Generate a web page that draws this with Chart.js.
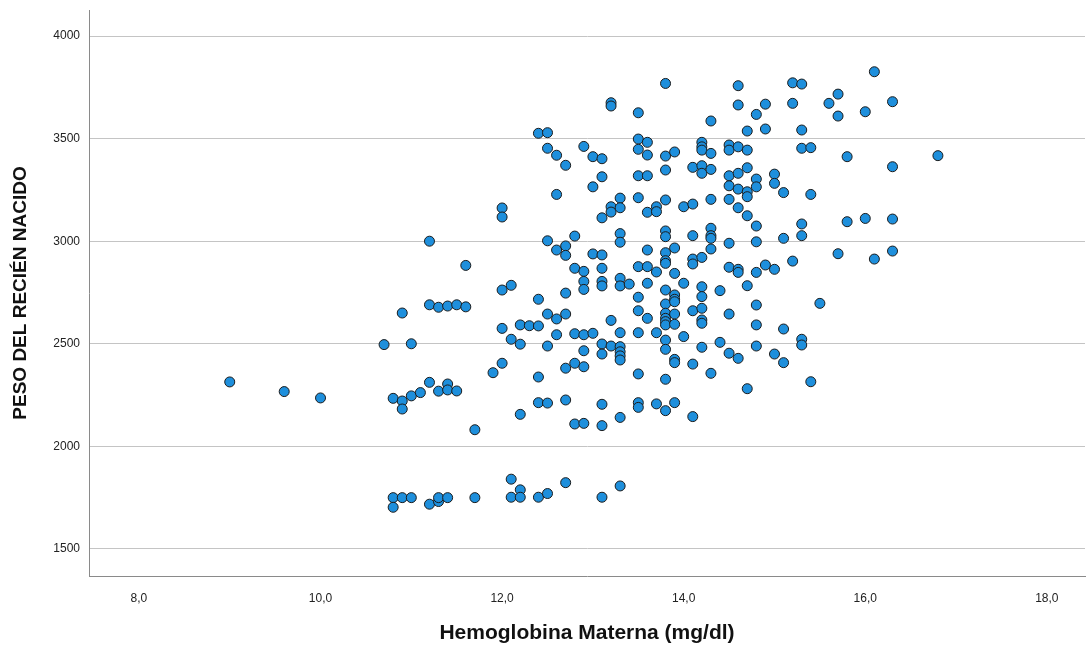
<!DOCTYPE html>
<html>
<head>
<meta charset="utf-8">
<script src="https://cdn.jsdelivr.net/npm/chart.js@4"></script>
<style>
  html, body { margin: 0; padding: 0; background: #fff; }
  #wrap { width: 1086px; height: 646px; }
</style>
</head>
<body>
<div id="wrap"><canvas id="scatter" width="1086" height="646"></canvas></div>
<script>
// Hemoglobina materna (x) y peso del recién nacido (y)
const hemoglobina = [
  9.0, 9.6, 10.0, 10.7, 10.8, 10.8, 10.8, 10.9, 10.9, 10.9, 10.9, 11.0, 11.0, 11.0, 11.1,
  11.2, 11.2, 11.2, 11.2, 11.3, 11.3, 11.3, 11.3, 11.4, 11.4, 11.4, 11.4, 11.5, 11.5,
  11.6, 11.6, 11.7, 11.7, 11.9,
  12.0, 12.0, 12.0, 12.0, 12.0,
  12.1, 12.1, 12.1, 12.1,
  12.2, 12.2, 12.2, 12.2, 12.2,
  12.3,
  12.4, 12.4, 12.4, 12.4, 12.4, 12.4,
  12.5, 12.5, 12.5, 12.5, 12.5, 12.5, 12.5,
  12.6, 12.6, 12.6, 12.6, 12.6,
  12.7, 12.7, 12.7, 12.7, 12.7, 12.7, 12.7, 12.7,
  12.8, 12.8, 12.8, 12.8, 12.8,
  12.9, 12.9, 12.9, 12.9, 12.9, 12.9, 12.9, 12.9,
  13.0, 13.0, 13.0, 13.0,
  13.1, 13.1, 13.1, 13.1, 13.1, 13.1, 13.1, 13.1, 13.1, 13.1, 13.1, 13.1,
  13.2, 13.2, 13.2, 13.2, 13.2, 13.2,
  13.3, 13.3, 13.3, 13.3, 13.3, 13.3, 13.3, 13.3, 13.3, 13.3, 13.3, 13.3, 13.3,
  13.4,
  13.5, 13.5, 13.5, 13.5, 13.5, 13.5, 13.5, 13.5, 13.5, 13.5, 13.5, 13.5,
  13.6, 13.6, 13.6, 13.6, 13.6, 13.6, 13.6, 13.6,
  13.7, 13.7, 13.7, 13.7, 13.7,
  13.8, 13.8, 13.8, 13.8, 13.8, 13.8, 13.8, 13.8, 13.8, 13.8, 13.8, 13.8, 13.8, 13.8,
  13.8, 13.8, 13.8, 13.8, 13.8,
  13.9, 13.9, 13.9, 13.9, 13.9, 13.9, 13.9, 13.9, 13.9, 13.9, 13.9,
  14.0, 14.0, 14.0,
  14.1, 14.1, 14.1, 14.1, 14.1, 14.1, 14.1, 14.1,
  14.2, 14.2, 14.2, 14.2, 14.2, 14.2, 14.2, 14.2, 14.2, 14.2, 14.2, 14.2,
  14.3, 14.3, 14.3, 14.3, 14.3, 14.3, 14.3, 14.3, 14.3,
  14.4, 14.4,
  14.5, 14.5, 14.5, 14.5, 14.5, 14.5, 14.5, 14.5, 14.5,
  14.6, 14.6, 14.6, 14.6, 14.6, 14.6, 14.6, 14.6, 14.6,
  14.7, 14.7, 14.7, 14.7, 14.7, 14.7, 14.7, 14.7,
  14.8, 14.8, 14.8, 14.8, 14.8, 14.8, 14.8, 14.8, 14.8,
  14.9, 14.9, 14.9,
  15.0, 15.0, 15.0, 15.0,
  15.1, 15.1, 15.1, 15.1,
  15.2, 15.2, 15.2,
  15.3, 15.3, 15.3, 15.3, 15.3, 15.3, 15.3,
  15.4, 15.4, 15.4,
  15.5, 15.6,
  15.7, 15.7, 15.7,
  15.8, 15.8,
  16.0, 16.0,
  16.1, 16.1,
  16.3, 16.3, 16.3, 16.3,
  16.8
];

const pesoRN = [
  2314, 2267, 2236, 2496, 2234, 1750, 1703, 2650, 2221, 2182, 1750, 2500, 2246, 1750, 2262,
  3000, 2690, 2312, 1718, 2678, 2269, 1731, 1750, 2684, 2304, 2275, 1750, 2690, 2270,
  2882, 2680, 2081, 1750, 2359,
  3162, 3118, 2762, 2575, 2405,
  2785, 2522, 1840, 1752,
  2592, 2498, 2156, 1788, 1752,
  2588,
  3526, 2717, 2587, 2338, 2213, 1752,
  3529, 3453, 3002, 2645, 2489, 2211, 1770,
  3419, 3228, 2957, 2621, 2544,
  3370, 2977, 2931, 2747, 2645, 2381, 2226, 1823,
  3025, 2868, 2549, 2405, 2109,
  3462, 2853, 2804, 2765, 2544, 2466, 2388, 2112,
  3412, 3265, 2938, 2551,
  3402, 3314, 3114, 2933, 2868, 2804, 2782, 2499, 2450, 2205, 2101, 1752,
  3675, 3659, 3168, 3142, 2614, 2489,
  3210, 3163, 3037, 2995, 2819, 2782, 2554, 2486, 2461, 2441, 2421, 2141, 1807,
  2791,
  3626, 3498, 3448, 3319, 3212, 2876, 2727, 2661, 2554, 2353, 2213, 2190,
  3482, 3420, 3319, 3141, 2957, 2876, 2795, 2624,
  3168, 3144, 2850, 2554, 2207,
  3769, 3415, 3347, 3201, 3050, 3022, 2944, 2905, 2892, 2762, 2694, 2649, 2624, 2608,
  2592, 2518, 2473, 2327, 2174,
  3435, 2967, 2843, 2738, 2717, 2705, 2645, 2595, 2424, 2408, 2213,
  3168, 2795, 2535,
  3360, 3181, 3027, 2913, 2889, 2661, 2401, 2145,
  3482, 3460, 3444, 3368, 3331, 2921, 2778, 2730, 2673, 2616, 2600, 2483,
  3586, 3428, 3350, 3204, 3063, 3027, 3014, 2962, 2356,
  2759, 2507,
  3469, 3444, 3319, 3270, 3204, 2990, 2873, 2645, 2454,
  3758, 3664, 3460, 3331, 3254, 3163, 2863, 2848, 2429,
  3537, 3444, 3358, 3241, 3217, 3124, 2783, 2281,
  3618, 3303, 3265, 3074, 2997, 2848, 2689, 2592, 2489,
  3668, 3547, 2884,
  3327, 3282, 2863, 2450,
  3237, 3014, 2572, 2408,
  3772, 3672, 2903,
  3766, 3542, 3453, 3084, 3027, 2522, 2494,
  3456, 3228, 2315,
  2697, 3672,
  3717, 3610, 2939,
  3412, 3095,
  3631, 3111,
  3826, 2913,
  3680, 3363, 3108, 2952,
  3417
];

const xTicks = [8, 10, 12, 14, 16, 18];
const yTicks = [1500, 2000, 2500, 3000, 3500, 4000];

const xTitle = "Hemoglobina Materna (mg/dl)";
const yTitle = "PESO DEL RECIÉN NACIDO";

const puntos = hemoglobina.map((h, i) => ({ x: h, y: pesoRN[i] }));

const ctx = document.getElementById("scatter").getContext("2d");

new Chart(ctx, {
    type: "scatter",
    data: {
        datasets: [{
            data: puntos,
            backgroundColor: "#1e8fdc",
            borderColor: "#1b1b1b",
            borderWidth: 1,
            pointRadius: 5,
            pointHoverRadius: 5
        }]
    },
    options: {
        responsive: false,
        animation: false,
        layout: { autoPadding: false, padding: { top: 10, right: 1, left: 0, bottom: 0 } },
        plugins: {
            legend: { display: false },
            tooltip: { enabled: false }
        },
        scales: {
            x: {
                type: "linear",
                min: 7.45,
                max: 18.42,
                afterBuildTicks: s => { s.ticks = xTicks.map(v => ({ value: v })); },
                afterFit: s => { s.height = 70; s.paddingLeft = 0; s.paddingRight = 0; },
                grid: { display: false, drawTicks: false },
                border: { display: true, color: "#8a8a8a", width: 1 },
                ticks: {
                    padding: 15,
                    color: "#222",
                    font: { family: "Liberation Sans, Arial", size: 12 },
                    callback: v => v.toFixed(1).replace(".", ",")
                },
                title: {
                    display: true,
                    text: xTitle,
                    color: "#111",
                    font: { family: "Liberation Sans, Arial", size: 21, weight: "bold" },
                    padding: { top: 0, bottom: 0 }
                }
            },
            y: {
                type: "linear",
                min: 1368,
                max: 4127,
                afterBuildTicks: s => { s.ticks = yTicks.map(v => ({ value: v })); },
                afterFit: s => { s.width = 89; s.paddingTop = 0; s.paddingBottom = 0; },
                grid: { color: "#c4c4c4", lineWidth: 1, drawTicks: false },
                border: { display: true, color: "#8a8a8a", width: 1 },
                ticks: {
                    padding: 9,
                    color: "#222",
                    font: { family: "Liberation Sans, Arial", size: 12 },
                    callback: v => String(v)
                },
                title: {
                    display: true,
                    text: yTitle,
                    color: "#111",
                    font: { family: "Liberation Sans, Arial", size: 19, weight: "bold" },
                    padding: { top: 9, bottom: 0 }
                }
            }
        }
    }
});
</script>
</body>
</html>
